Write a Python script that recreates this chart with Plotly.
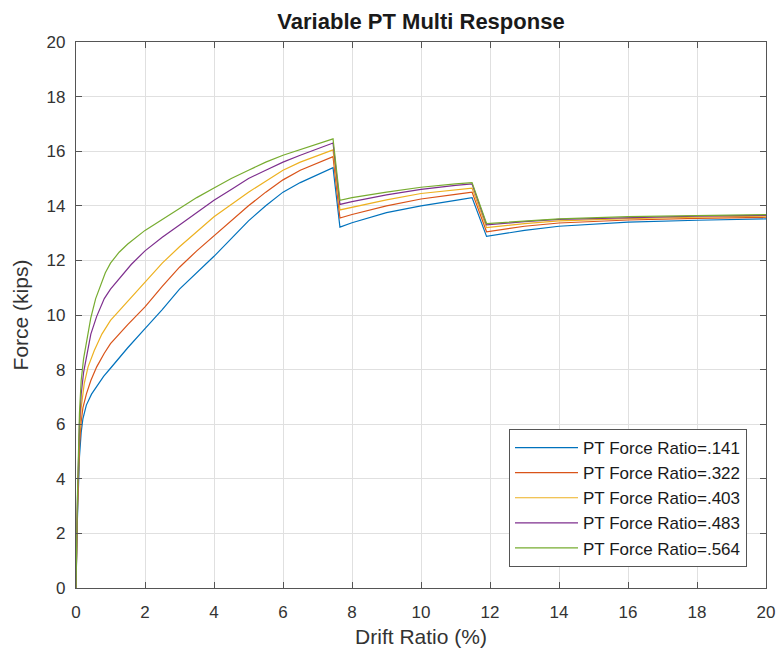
import plotly.graph_objects as go

# Drift ratio (%) and force (kips) for each PT force ratio
x_141 = [0, 0.04, 0.1, 0.15, 0.2, 0.3, 0.45, 0.6, 0.8, 1.0, 1.5, 2.0, 2.5, 3.0, 3.5, 4.0, 4.5, 5.0, 5.5, 6.0, 6.5, 7.0, 7.45,
         7.65, 8, 9, 10, 11, 11.48, 11.9, 13, 14, 16, 18, 20]
y_141 = [0, 2.5, 4.8, 5.7, 6.2, 6.7, 7.1, 7.4, 7.75, 8.05, 8.8, 9.5, 10.2, 10.95, 11.55, 12.15, 12.8, 13.45, 14.0, 14.5, 14.85, 15.15, 15.4,
         13.22, 13.38, 13.75, 14.0, 14.2, 14.3, 12.88, 13.1, 13.25, 13.4, 13.47, 13.52]

x_322 = [0, 0.04, 0.1, 0.15, 0.2, 0.3, 0.43, 0.6, 0.82, 1.0, 1.5, 2.0, 2.5, 3.0, 3.5, 4.0, 4.5, 5.0, 5.5, 6.0, 6.5, 7.0, 7.45,
         7.65, 8, 9, 10, 11, 11.48, 11.9, 13, 14, 16, 18, 20]
y_322 = [0, 2.7, 5.2, 6.1, 6.6, 7.1, 7.6, 8.1, 8.6, 8.95, 9.65, 10.3, 11.05, 11.75, 12.35, 12.9, 13.45, 14.0, 14.5, 14.95, 15.3, 15.55, 15.8,
         13.55, 13.68, 14.0, 14.25, 14.42, 14.5, 13.05, 13.25, 13.37, 13.48, 13.54, 13.58]

x_403 = [0, 0.04, 0.1, 0.15, 0.24, 0.35, 0.53, 0.75, 1.0, 1.5, 2.0, 2.5, 3.0, 3.5, 4.0, 4.5, 5.0, 5.5, 6.0, 6.5, 7.0, 7.45,
         7.65, 8, 9, 10, 11, 11.48, 11.9, 13, 14, 16, 18, 20]
y_403 = [0, 2.9, 5.6, 6.6, 7.5, 8.1, 8.7, 9.3, 9.8, 10.5, 11.2, 11.9, 12.5, 13.05, 13.6, 14.05, 14.5, 14.9, 15.3, 15.6, 15.85, 16.05,
         13.85, 13.95, 14.22, 14.45, 14.6, 14.65, 13.2, 13.35, 13.45, 13.53, 13.58, 13.62]

x_483 = [0, 0.04, 0.1, 0.15, 0.22, 0.29, 0.43, 0.6, 0.82, 1.0, 1.3, 1.6, 2.0, 2.5, 3.0, 3.5, 4.0, 4.5, 5.0, 5.5, 6.0, 6.5, 7.0, 7.45,
         7.65, 8, 9, 10, 11, 11.48, 11.9, 13, 14, 16, 18, 20]
y_483 = [0, 3.1, 6.0, 7.1, 7.9, 8.4, 9.3, 9.95, 10.6, 10.95, 11.4, 11.85, 12.35, 12.85, 13.3, 13.75, 14.2, 14.6, 15.0, 15.3, 15.6, 15.85, 16.1, 16.3,
         14.05, 14.15, 14.4, 14.6, 14.75, 14.8, 13.3, 13.42, 13.5, 13.57, 13.62, 13.65]

x_564 = [0, 0.04, 0.1, 0.15, 0.22, 0.29, 0.43, 0.57, 0.72, 0.85, 1.0, 1.25, 1.5, 2.0, 2.5, 3.0, 3.5, 4.0, 4.5, 5.0, 5.5, 6.0, 6.5, 7.0, 7.45,
         7.65, 8, 9, 10, 11, 11.48, 11.9, 13, 14, 16, 18, 20]
y_564 = [0, 3.3, 6.4, 7.6, 8.4, 8.95, 9.9, 10.6, 11.15, 11.55, 11.9, 12.3, 12.6, 13.1, 13.5, 13.9, 14.3, 14.65, 15.0, 15.3, 15.6, 15.85, 16.05, 16.25, 16.45,
         14.2, 14.3, 14.5, 14.68, 14.8, 14.85, 13.35, 13.45, 13.52, 13.6, 13.65, 13.68]

names = ["PT Force Ratio=.141", "PT Force Ratio=.322", "PT Force Ratio=.403",
         "PT Force Ratio=.483", "PT Force Ratio=.564"]
colors = ["#0072BD", "#D95319", "#EDB120", "#7E2F8E", "#77AC30"]
xs = [x_141, x_322, x_403, x_483, x_564]
ys = [y_141, y_322, y_403, y_483, y_564]

x_ticks = list(range(0, 21, 2))
y_ticks = list(range(0, 21, 2))

FONT = "Liberation Sans, Arial, Helvetica, sans-serif"

fig = go.Figure()
for xv, yv, n, c in zip(xs, ys, names, colors):
    fig.add_trace(go.Scatter(x=xv, y=yv, mode="lines", name=n,
                             line=dict(color=c, width=1.2)))

axis_common = dict(
    showgrid=True, gridcolor="#e0e0e0", gridwidth=1,
    showline=True, linecolor="#555555", linewidth=1.3, mirror="allticks",
    ticks="inside", ticklen=6, tickcolor="#555555", tickwidth=1,
    zeroline=False, automargin=False,
    tickfont=dict(family=FONT, size=17, color="#333333"),
)

fig.update_layout(
    width=778, height=651,
    margin=dict(l=76, r=12, t=42, b=63),
    paper_bgcolor="white", plot_bgcolor="white",
    title=dict(text="<b>Variable PT Multi Response</b>", x=421 / 778, xanchor="center",
               y=1 - 21 / 651, yanchor="middle",
               font=dict(family=FONT, size=22, color="#1a1a1a")),
    xaxis=dict(range=[0, 20], tickvals=x_ticks, ticklabelstandoff=8,
               title=dict(text="Drift Ratio (%)", standoff=8,
                          font=dict(family=FONT, size=21, color="#333333")),
               **axis_common),
    yaxis=dict(range=[0, 20], tickvals=y_ticks, ticklabelstandoff=6,
               title=dict(text="Force (kips)", standoff=12,
                          font=dict(family=FONT, size=21, color="#333333")),
               **axis_common),
    legend=dict(x=(747 - 76) / 690, y=21 / 546, xanchor="right", yanchor="bottom",
                bgcolor="white", bordercolor="#555555", borderwidth=1,
                font=dict(family=FONT, size=17, color="#1a1a1a"),
                itemwidth=63, tracegroupgap=0),
    showlegend=True,
)

fig.write_html("out.html", config={"displayModeBar": False},
               post_script="document.body.style.margin='0';")
